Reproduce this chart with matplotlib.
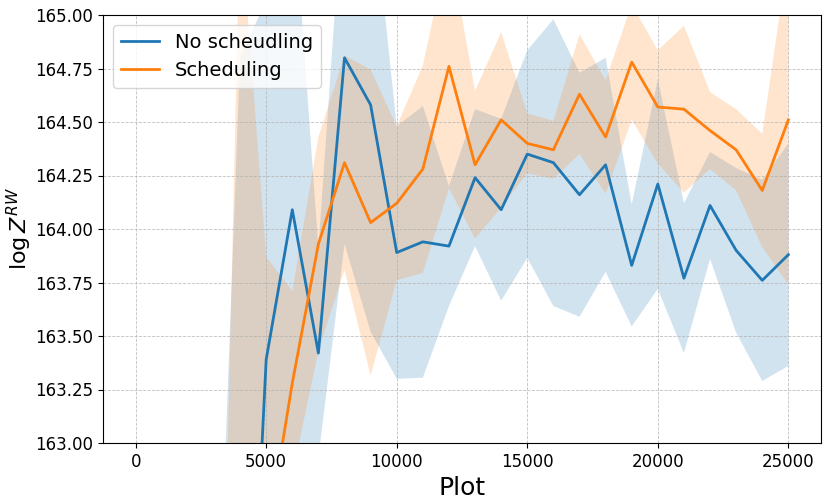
import matplotlib
matplotlib.use("Agg")
import matplotlib.pyplot as plt
import numpy as np
from matplotlib.ticker import FormatStrFormatter

steps = list(range(0, 26000, 1000))

no_sched_mean = [150.2, 154.6, 157.1, 159.0, 160.9, 163.39, 164.09, 163.42, 164.80, 164.58,
                 163.89, 163.94, 163.92, 164.24, 164.09, 164.35, 164.31, 164.16, 164.30, 163.83,
                 164.21, 163.77, 164.11, 163.90, 163.76, 163.88]
no_sched_std = [2.8, 2.8, 2.7, 2.53, 3.9, 1.68, 1.53, 0.49, 0.87, 1.06,
                0.59, 0.635, 0.28, 0.32, 0.425, 0.485, 0.67, 0.57, 0.50, 0.285,
                0.49, 0.35, 0.25, 0.385, 0.47, 0.52]

sched_mean = [148.5, 152.3, 155.0, 157.0, 160.5, 162.53, 163.28, 163.93, 164.31, 164.03,
              164.12, 164.28, 164.76, 164.30, 164.51, 164.40, 164.37, 164.63, 164.43, 164.78,
              164.57, 164.56, 164.46, 164.37, 164.18, 164.51]
sched_std = [3.0, 3.0, 2.9, 3.19, 4.97, 1.34, 0.43, 0.50, 0.50, 0.715,
             0.36, 0.485, 0.57, 0.345, 0.41, 0.14, 0.135, 0.28, 0.265, 0.27,
             0.265, 0.39, 0.18, 0.19, 0.265, 0.77]

fig = plt.figure(figsize=(8.31, 5.04), dpi=100)
ax = fig.add_subplot(111)
fig.subplots_adjust(left=103/831, right=821/831, top=1-15/504, bottom=1-443/504)

x = np.array(steps)
for mean, std, label, color in [
    (no_sched_mean, no_sched_std, "No scheudling", "tab:blue"),
    (sched_mean, sched_std, "Scheduling", "tab:orange"),
]:
    m = np.array(mean)
    s = np.array(std)
    ax.plot(x, m, color=color, linewidth=2, label=label)
    ax.fill_between(x, m - s, m + s, color=color, alpha=0.2, linewidth=0)

ax.set_ylim(163, 165)
ax.yaxis.set_major_formatter(FormatStrFormatter('%.2f'))
ax.grid(True, linestyle='--', linewidth=0.6, color='#b0b0b0', alpha=0.8)
ax.tick_params(labelsize=12)
ax.set_xlabel("Plot", fontsize=18)
ax.set_ylabel(r"$\log Z^{RW}$", fontsize=16, labelpad=0.5)
ax.legend(loc="upper left", fontsize=14)

fig.savefig("out.png", dpi=100)
